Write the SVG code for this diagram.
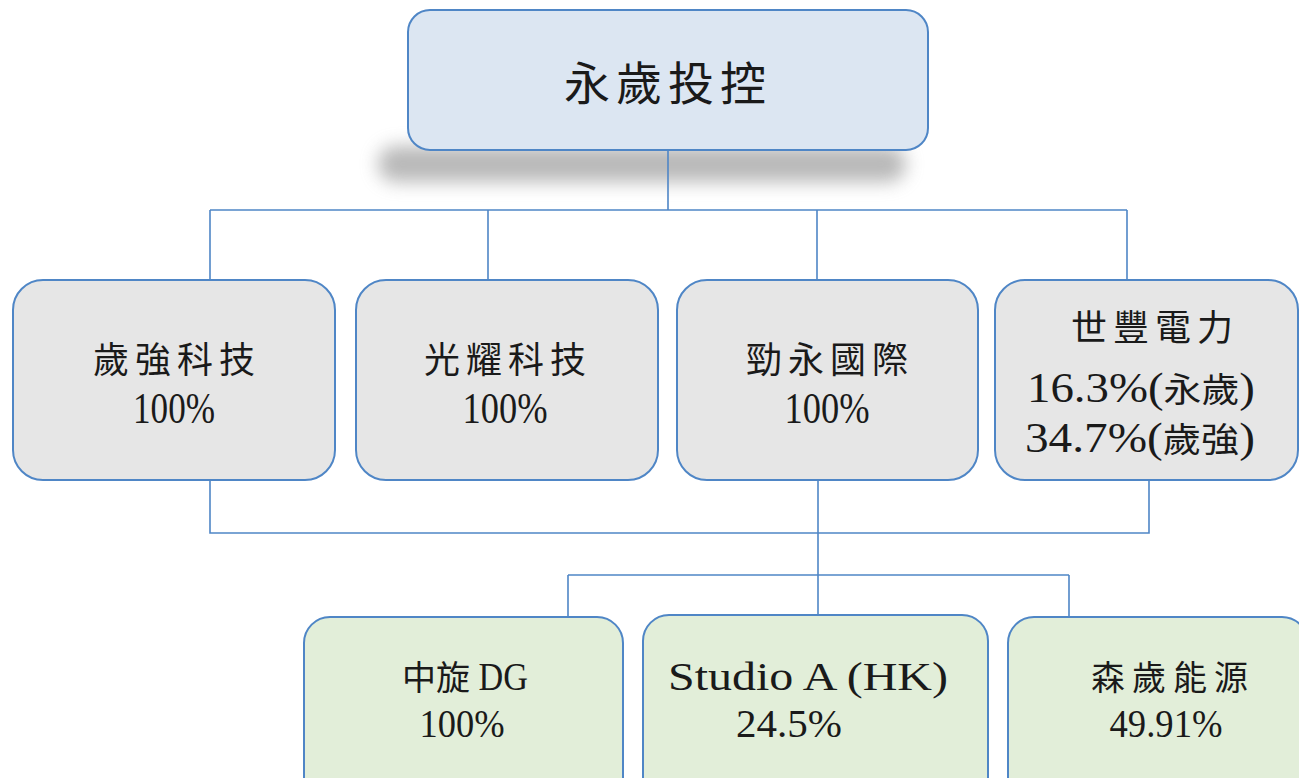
<svg xmlns="http://www.w3.org/2000/svg" width="1299" height="778" viewBox="0 0 1299 778">
<defs>
<filter id="blur" x="-20%" y="-100%" width="140%" height="300%"><feGaussianBlur stdDeviation="9"/></filter>
<style>
.box{stroke:#4f86c6;stroke-width:2}
.top{fill:#dce6f2}
.gray{fill:#e6e6e6}
.green{fill:#e2eed9}
.conn{fill:none;stroke:#4f86c6;stroke-width:1.6}
.cjk{font-family:"Noto Sans CJK TC","Noto Sans CJK SC",sans-serif;fill:#1a1a1a;text-anchor:middle}
.num{font-family:"Liberation Serif",serif;fill:#1a1a1a;text-anchor:middle}
</style>
</defs>
<rect width="1299" height="778" fill="#ffffff"/>
<rect x="378" y="146" width="528" height="36" rx="18" fill="#8a8a8a" opacity="0.6" filter="url(#blur)"/>
<g id="connectors" class="conn">
<path d="M668 150V210M210 210H1127M210 210V280M488 210V280M817 210V280M1127 210V280"/>
<path d="M210 480V533H1149V480"/>
<path d="M818 480V615"/>
<path d="M568 575H1069M568 575V617M1069 575V617"/>
</g>
<g id="n0">
<rect class="box top" x="408" y="10" width="520" height="140" rx="22"/>
<text class="cjk" x="668" y="100" font-size="46" letter-spacing="6">永歲投控</text>
</g>
<g id="n1">
<rect class="box gray" x="13" y="280" width="322" height="200" rx="30"/>
<text class="cjk" x="177" y="373" font-size="36" letter-spacing="6">歲強科技</text>
<text class="num" x="174" y="423" font-size="44" textLength="82" lengthAdjust="spacingAndGlyphs">100%</text>
</g>
<g id="n2">
<rect class="box gray" x="356" y="280" width="302" height="200" rx="30"/>
<text class="cjk" x="508" y="373" font-size="36" letter-spacing="6">光耀科技</text>
<text class="num" x="505" y="423" font-size="44" textLength="85" lengthAdjust="spacingAndGlyphs">100%</text>
</g>
<g id="n3">
<rect class="box gray" x="677" y="280" width="301" height="200" rx="30"/>
<text class="cjk" x="830" y="373" font-size="36" letter-spacing="6">勁永國際</text>
<text class="num" x="827" y="423" font-size="44" textLength="85" lengthAdjust="spacingAndGlyphs">100%</text>
</g>
<g id="n4">
<rect class="box gray" x="995" y="280" width="303" height="200" rx="30"/>
<text class="cjk" x="1155" y="341" font-size="36" letter-spacing="6">世豐電力</text>
<text class="num" x="1141" y="402" font-size="42" textLength="228" lengthAdjust="spacingAndGlyphs">16.3%(<tspan font-family="Noto Sans CJK TC,sans-serif" font-size="34">永歲</tspan>)</text>
<text class="num" x="1140" y="452" font-size="42" textLength="230" lengthAdjust="spacingAndGlyphs">34.7%(<tspan font-family="Noto Sans CJK TC,sans-serif" font-size="34">歲強</tspan>)</text>
</g>
<g id="n5">
<rect class="box green" x="304" y="617" width="319" height="190" rx="26"/>
<text class="cjk" x="465" y="690" font-size="34">中旋<tspan font-family="Liberation Serif,serif" font-size="40" textLength="58" lengthAdjust="spacingAndGlyphs"> DG</tspan></text>
<text class="num" x="462" y="737" font-size="40" textLength="85" lengthAdjust="spacingAndGlyphs">100%</text>
</g>
<g id="n6">
<rect class="box green" x="643" y="615" width="345" height="190" rx="26"/>
<text class="num" x="808" y="690" font-size="40" textLength="280" lengthAdjust="spacingAndGlyphs">Studio A (HK)</text>
<text class="num" x="789" y="737" font-size="40" textLength="106" lengthAdjust="spacingAndGlyphs">24.5%</text>
</g>
<g id="n7">
<rect class="box green" x="1008" y="617" width="300" height="190" rx="26"/>
<text class="cjk" x="1173" y="690" font-size="34" letter-spacing="7">森歲能源</text>
<text class="num" x="1166" y="737" font-size="40" textLength="113" lengthAdjust="spacingAndGlyphs">49.91%</text>
</g>
</svg>
